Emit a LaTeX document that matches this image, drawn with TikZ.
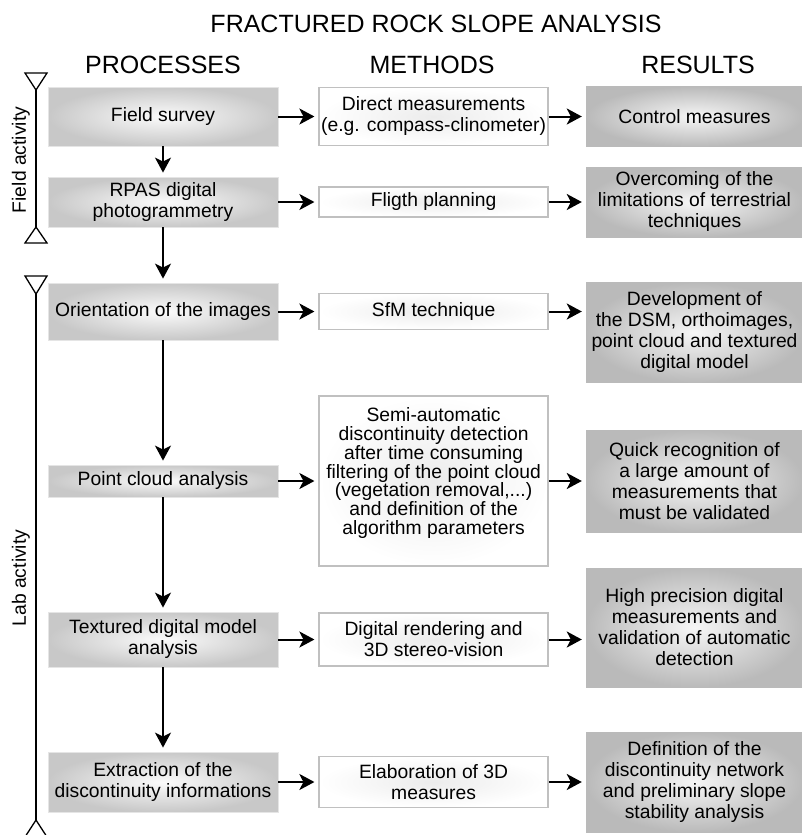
\documentclass[tikz,border=0pt]{standalone}
\usepackage{fontspec}
\setmainfont{Liberation Sans}
\usetikzlibrary{arrows.meta,positioning}
\definecolor{procgray}{RGB}{200,200,200}
\definecolor{resgray}{RGB}{186,186,186}
\definecolor{methline}{RGB}{192,192,192}
\tikzset{
  boxtext/.style={rectangle, align=center, inner sep=0pt,
                  font=\fontsize{19.3}{21}\selectfont},
  process/.style={boxtext, draw=gray!20, line width=0.8pt, inner color=gray!3,
                  outer color=procgray, minimum width=230pt},
  method/.style={boxtext, draw=methline, line width=1.4pt, inner color=gray!15,
                 outer color=white, minimum width=229pt},
  result/.style={boxtext, inner color=gray!7, outer color=resgray,
                 minimum width=217pt},
  header/.style={font=\fontsize{25}{30}\selectfont},
  sidelabel/.style={rotate=90, font=\fontsize{19.3}{21}\selectfont},
  arrow/.style={-{Stealth[length=15pt,width=16pt,inset=4pt]}, line width=2pt,
                shorten >=4pt},
  span/.style={line width=1.3pt, fill=white, line join=miter}
}
\begin{document}
\begin{tikzpicture}[x=1pt, y=-1pt]
\useasboundingbox (0,0) rectangle (802,835);

% --- Titles ---
\node[header] (title) at (436,24) {FRACTURED ROCK SLOPE ANALYSIS};
\node[header] (hproc) at (163,64.5) {PROCESSES};
\node[header] (hmeth) at (432,64.5) {METHODS};
\node[header] (hres) at (698,64.5) {RESULTS};

% --- Processes ---
\node[process, minimum height=59pt] (survey) at (163,116.5) {Field survey};
\node[process, minimum height=50pt] (rpas) at (163,202) {RPAS digital\\photogrammetry};
\node[process, minimum height=57pt] (orient) at (163,311.5) {Orientation of the images};
\node[process, minimum height=32pt] (cloud) at (163,481) {Point cloud analysis};
\node[process, minimum height=55pt] (texmod) at (163,639.5) {Textured digital model\\analysis};
\node[process, minimum height=60pt] (extract) at (163,782) {Extraction of the\\discontinuity informations};

% --- Methods ---
\node[method, minimum height=58pt, right=40pt of survey] (direct)
  {Direct measurements\\(e.g. compass-clinometer)};
\node[method, minimum height=30pt, right=40pt of rpas] (flight) {Fligth planning};
\node[method, minimum height=36pt, right=40pt of orient] (sfm) {SfM technique};
\node[method, minimum height=170pt, right=40pt of cloud, text depth=20pt,
      font=\fontsize{19.3}{18.7}\selectfont] (semi)
  {Semi-automatic\\discontinuity detection\\after time consuming\\filtering of the point cloud\\(vegetation removal,...)\\and definition of the\\algorithm parameters};
\node[method, minimum height=53pt, right=40pt of texmod] (render)
  {Digital rendering and\\3D stereo-vision};
\node[method, minimum height=51pt, right=40pt of extract] (elab)
  {Elaboration of 3D\\measures};

% --- Results ---
\node[result, minimum height=60pt, right=37pt of direct] (control) {Control measures};
\node[result, minimum height=70pt, right=37pt of flight] (overcome)
  {Overcoming of the\\limitations of terrestrial\\techniques};
\node[result, minimum height=100pt, right=37pt of sfm, yshift=-21pt] (develop)
  {Development of\\the DSM, orthoimages,\\point cloud and textured\\digital model};
\node[result, minimum height=102pt, right=37pt of semi] (quick)
  {Quick recognition of\\a large amount of\\measurements that\\must be validated};
\node[result, minimum height=119pt, right=37pt of render, yshift=12pt] (highprec)
  {High precision digital\\measurements and\\validation of automatic\\detection};
\node[result, minimum height=100pt, right=37pt of elab] (define)
  {Definition of the\\discontinuity network\\and preliminary slope\\stability analysis};

% --- Arrows ---
\draw[arrow] (survey) -- (rpas);
\draw[arrow] (rpas) -- (orient);
\draw[arrow] (orient) -- (cloud);
\draw[arrow] (cloud) -- (texmod);
\draw[arrow] (texmod) -- (extract);

\draw[arrow] (survey) -- (direct);
\draw[arrow] (rpas) -- (flight);
\draw[arrow] (orient) -- (sfm);
\draw[arrow] (cloud) -- (cloud -| semi.west);
\draw[arrow] (texmod) -- (render);
\draw[arrow] (extract) -- (elab);

\draw[arrow] (direct) -- (control);
\draw[arrow] (flight) -- (overcome);
\draw[arrow] (sfm.east) -- (sfm.east -| develop.west);
\draw[arrow] (cloud -| semi.east) -- (cloud -| quick.west);
\draw[arrow] (render.east) -- (render.east -| highprec.west);
\draw[arrow] (elab) -- (define);

% --- Activity spans ---
\coordinate (ftop) at (36,90);
\coordinate (fbot) at (36,227);
\coordinate (ltop) at (36,294);
\coordinate (lbot) at (36,820);
\draw[line width=1.3pt] (ftop) -- (fbot);
\draw[line width=1.3pt] (ltop) -- (lbot);
\draw[span] (25,73) -- (47,73) -- (ftop) -- cycle;
\draw[span] (fbot) -- (47,243) -- (25,243) -- cycle;
\draw[span] (25,276) -- (47,276) -- (ltop) -- cycle;
\draw[span] (lbot) -- (47,837) -- (25,837) -- cycle;
\node[sidelabel] (fieldlbl) at (21,160) {Field activity};
\node[sidelabel] (lablbl) at (21,578) {Lab activity};

\end{tikzpicture}
\end{document}
